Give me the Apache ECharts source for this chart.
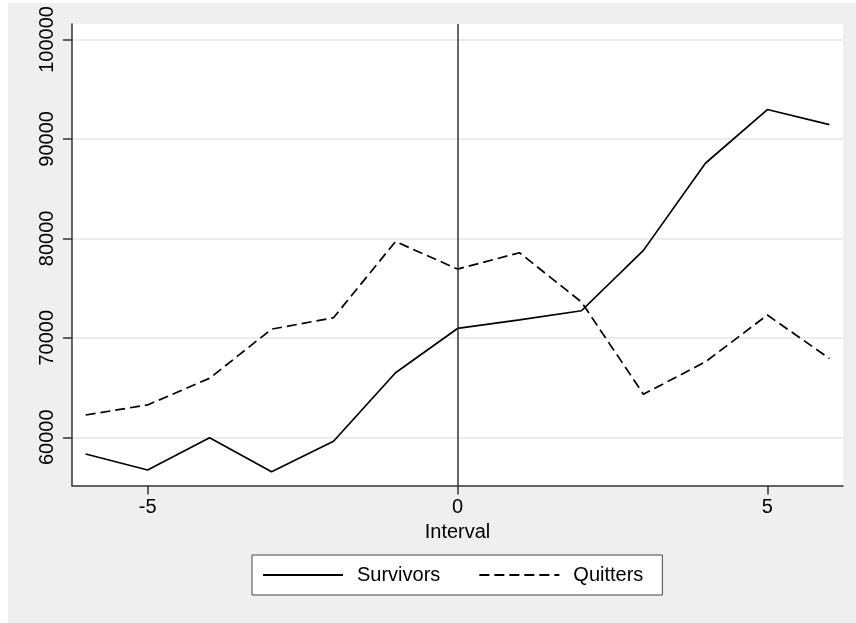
<!DOCTYPE html>
<html>
<head>
<meta charset="utf-8">
<script src="https://cdn.jsdelivr.net/npm/echarts@6/dist/echarts.min.js"></script>
<style>
  html, body { margin: 0; padding: 0; background: #ffffff; }
  #wrap { position: relative; width: 856px; height: 623px; overflow: hidden; }
  #bg { position: absolute; left: 8px; top: 3px; width: 848px; height: 620px; background: #efefef; }
  #chart { position: absolute; left: 0; top: 0; width: 856px; height: 623px; }
</style>
</head>
<body>
<div id="wrap"><div id="bg"></div><div id="chart"></div></div>
<script>
const intervals = [-6, -5, -4, -3, -2, -1, 0, 1, 2, 3, 4, 5, 6];
const survivors = [58320, 56710, 59960, 56540, 59600, 66490, 70940, 71800, 72720, 78790, 87550, 92950, 91440];
const quitters  = [62240, 63250, 65930, 70870, 72020, 79680, 76910, 78550, 73600, 64330, 67580, 72290, 67920];
const yTicks = [60000, 70000, 80000, 90000, 100000];
const xTicks = [-5, 0, 5];
const seriesNames = ['Survivors', 'Quitters'];
const xTitle = 'Interval';

const FONT = '"Liberation Sans", Arial, Helvetica, sans-serif';
const chart = echarts.init(document.getElementById('chart'), null, { renderer: 'canvas' });

const pairs = (vals) => intervals.map((x, i) => [x, vals[i]]);

chart.setOption({
  backgroundColor: 'transparent',
  animation: false,
  textStyle: { fontFamily: FONT },
  grid: {
    left: 72, top: 24, width: 771, height: 461.5,
    show: true, backgroundColor: '#ffffff', borderWidth: 0
  },
  legend: {
    left: 252, top: 555,
    data: seriesNames,
    itemWidth: 80, itemHeight: 14, itemGap: 38,
    padding: [10, 19, 10, 10],
    backgroundColor: '#ffffff',
    borderColor: '#444444', borderWidth: 1,
    itemStyle: { color: 'transparent', opacity: 0, borderWidth: 0 },
    textStyle: { fontFamily: FONT, fontSize: 20, color: '#000', padding: [0, 0, 0, 9] }
  },
  xAxis: {
    type: 'value', min: -6.22, max: 6.22,
    name: xTitle, nameLocation: 'middle', nameGap: 35,
    nameTextStyle: { fontFamily: FONT, fontSize: 20, color: '#000' },
    axisLine: { show: true, onZero: false, lineStyle: { color: '#333', width: 1.5 } },
    axisTick: { show: true, length: 9, customValues: xTicks, lineStyle: { color: '#333', width: 1.5 } },
    axisLabel: { customValues: xTicks, fontFamily: FONT, fontSize: 20, color: '#000', margin: 12 },
    splitLine: { show: false }
  },
  yAxis: {
    type: 'value', min: 55150, max: 101550,
    axisLine: { show: true, onZero: false, lineStyle: { color: '#333', width: 1.5 } },
    axisTick: { show: true, length: 9, customValues: yTicks, lineStyle: { color: '#333', width: 1.5 } },
    axisLabel: {
      customValues: yTicks, rotate: 90, fontFamily: FONT, fontSize: 20, color: '#000', margin: 15,
      formatter: (v) => String(Math.round(v))
    },
    splitLine: { show: true, lineStyle: { color: '#e6e6e6', width: 1.5 } }
  },
  series: [
    {
      name: seriesNames[0], type: 'line', data: pairs(survivors),
      symbol: 'none', showSymbol: false,
      lineStyle: { color: '#000', width: 1.7, type: 'solid' },
      itemStyle: { color: '#000' },
      markLine: {
        silent: true, symbol: 'none', label: { show: false },
        lineStyle: { color: '#333', width: 1.5, type: 'solid' },
        data: [{ xAxis: 0 }]
      }
    },
    {
      name: seriesNames[1], type: 'line', data: pairs(quitters),
      symbol: 'none', showSymbol: false,
      lineStyle: { color: '#000', width: 1.7, type: [10, 5] },
      itemStyle: { color: '#000' }
    }
  ]
});
</script>
</body>
</html>
